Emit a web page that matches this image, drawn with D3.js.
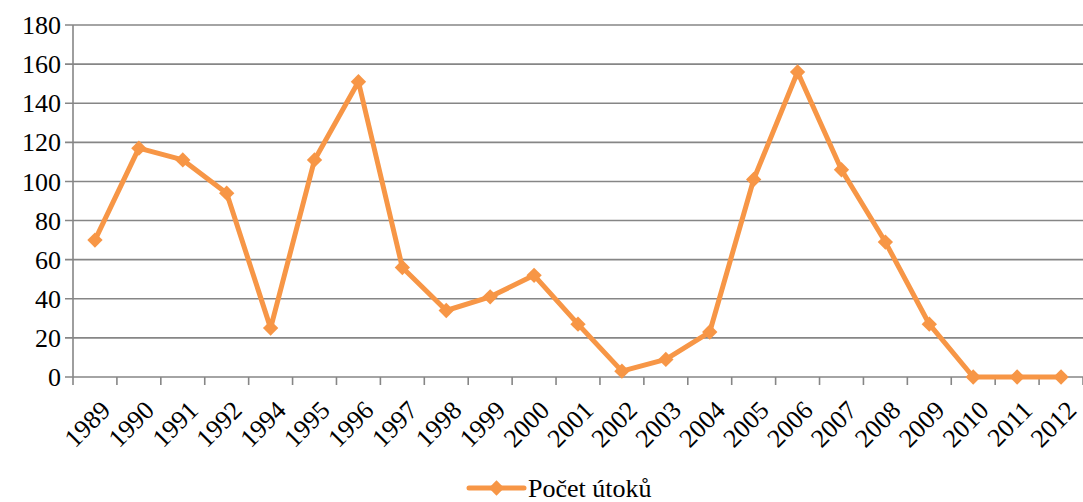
<!DOCTYPE html>
<html>
<head>
<meta charset="utf-8">
<script src="https://cdn.jsdelivr.net/npm/d3@7"></script>
<style>
  body { margin: 0; background: #fff; }
</style>
</head>
<body>
<div id="chart"></div>
<script>
// data
var years = ["1989","1990","1991","1992","1994","1995","1996","1997","1998","1999","2000",
             "2001","2002","2003","2004","2005","2006","2007","2008","2009","2010","2011","2012"];
var attacks = [70,117,111,94,25,111,151,56,34,41,52,27,3,9,23,101,156,106,69,27,0,0,0];
var yTicks = [0,20,40,60,80,100,120,140,160,180];
var seriesName = "Počet útoků";

var W = 1083, H = 502;
var margin = {top: 25, right: 0, bottom: 125, left: 73};
var width = W - margin.left - margin.right,
    height = H - margin.top - margin.bottom;
var orange = "#F79646", grey = "#868686";
var font = "'Liberation Serif', 'DejaVu Serif', serif";
var fs = 26;

var root = d3.select("#chart").append("svg")
    .attr("width", W).attr("height", H)
    .attr("font-family", font);

var svg = root.append("g")
    .attr("transform", "translate(" + margin.left + "," + margin.top + ")");

var x = d3.scaleBand().domain(years).range([0, width]);
var y = d3.scaleLinear().domain([0, 180]).range([height, 0]);

// horizontal gridlines
svg.append("g").selectAll("line")
    .data(yTicks)
  .enter().append("line")
    .attr("x1", -8).attr("x2", width)
    .attr("y1", function(d) { return y(d); })
    .attr("y2", function(d) { return y(d); })
    .attr("stroke", grey).attr("stroke-width", 1.6);

// y labels
svg.append("g").selectAll("text")
    .data(yTicks)
  .enter().append("text")
    .attr("x", -12)
    .attr("y", function(d) { return y(d); })
    .attr("dy", "0.35em")
    .attr("text-anchor", "end")
    .attr("font-size", fs)
    .text(function(d) { return d; });

// y axis line
svg.append("line")
    .attr("x1", 0).attr("x2", 0).attr("y1", 0).attr("y2", height)
    .attr("stroke", grey).attr("stroke-width", 1.6);

// x tick marks between categories
var bounds = years.map(function(d) { return x(d); }).concat([width]);
svg.append("g").selectAll("line")
    .data(bounds)
  .enter().append("line")
    .attr("x1", function(d) { return d; }).attr("x2", function(d) { return d; })
    .attr("y1", height).attr("y2", height + 8)
    .attr("stroke", grey).attr("stroke-width", 1.6);

// x labels rotated
svg.append("g").selectAll("text")
    .data(years)
  .enter().append("text")
    .attr("transform", function(d) {
      return "translate(" + (x(d) + x.bandwidth() / 2 + 4) + "," + (height + 22) + ") rotate(-45)";
    })
    .attr("text-anchor", "end")
    .attr("dy", "0.7em")
    .attr("font-size", fs)
    .text(function(d) { return d; });

// line
var line = d3.line()
    .x(function(d, i) { return x(years[i]) + x.bandwidth() / 2; })
    .y(function(d) { return y(d); });

svg.append("path")
    .datum(attacks)
    .attr("fill", "none")
    .attr("stroke", orange)
    .attr("stroke-width", 5)
    .attr("stroke-linejoin", "round")
    .attr("d", line);

var diamond = d3.symbol().type(d3.symbolDiamond2).size(150);
svg.selectAll(".dot")
    .data(attacks)
  .enter().append("path")
    .attr("class", "dot")
    .attr("transform", function(d, i) {
      return "translate(" + (x(years[i]) + x.bandwidth() / 2) + "," + y(d) + ")";
    })
    .attr("d", diamond)
    .attr("fill", orange);

// legend
var legend = root.append("g").attr("transform", "translate(469,488)");
legend.append("line")
    .attr("x1", 0).attr("x2", 55).attr("y1", 0).attr("y2", 0)
    .attr("stroke", orange).attr("stroke-width", 5)
    .attr("stroke-linecap", "round");
legend.append("path")
    .attr("transform", "translate(27.5,0)")
    .attr("d", diamond)
    .attr("fill", orange);
legend.append("text")
    .attr("x", 59).attr("y", 0).attr("dy", "0.35em")
    .attr("font-size", fs)
    .text(seriesName);
</script>
</body>
</html>
